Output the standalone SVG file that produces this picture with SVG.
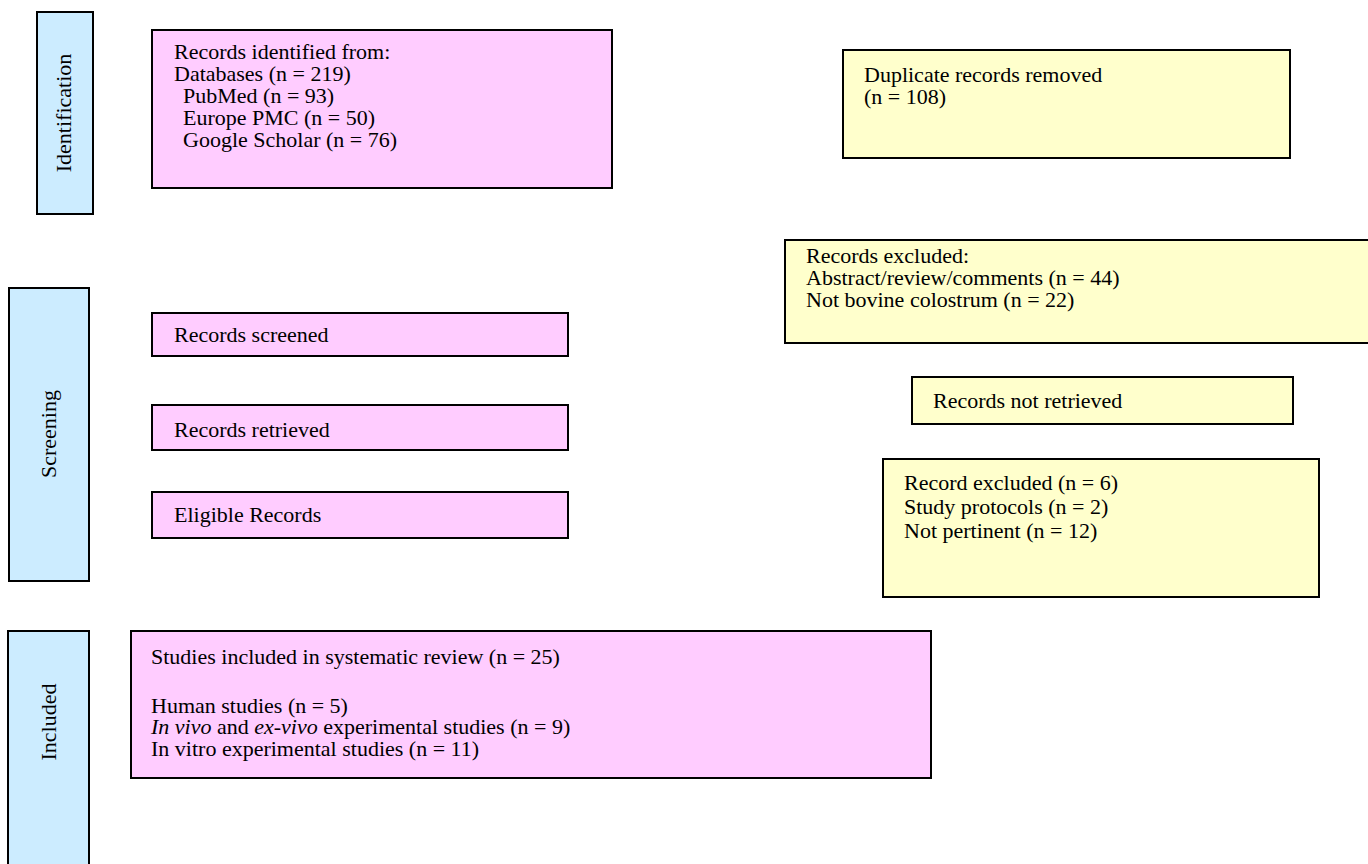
<svg xmlns="http://www.w3.org/2000/svg" width="1368" height="864" viewBox="0 0 1368 864">
<style>
.pink{fill:#FFCCFF;stroke:#000;stroke-width:2}
.yel{fill:#FFFFCC;stroke:#000;stroke-width:2}
.blue{fill:#CCECFF;stroke:#000;stroke-width:2}
text{font-family:"Liberation Serif","Times New Roman",serif;font-size:22px;fill:#000}
.it{font-style:italic}
</style>
<rect width="1368" height="864" fill="#fff"/>
<g id="phase-identification">
<rect class="blue" x="37" y="12" width="56" height="202"/>
<text transform="translate(71,113) rotate(-90)" text-anchor="middle">Identification</text>
</g>
<g id="phase-screening">
<rect class="blue" x="9" y="288" width="80" height="293"/>
<text transform="translate(56,434) rotate(-90)" text-anchor="middle">Screening</text>
</g>
<g id="phase-included">
<rect class="blue" x="8" y="631" width="81" height="240"/>
<text transform="translate(56,722) rotate(-90)" text-anchor="middle">Included</text>
</g>
<g id="records-identified">
<rect class="pink" x="152" y="30" width="460" height="158"/>
<text x="174" y="59">Records identified from:</text>
<text x="174" y="81">Databases (n = 219)</text>
<text x="183" y="103">PubMed (n = 93)</text>
<text x="183" y="125">Europe PMC (n = 50)</text>
<text x="183" y="147">Google Scholar (n = 76)</text>
</g>
<g id="duplicates-removed">
<rect class="yel" x="843" y="50" width="447" height="108"/>
<text x="864" y="82">Duplicate records removed</text>
<text x="864" y="104">(n = 108)</text>
</g>
<g id="records-excluded">
<rect class="yel" x="785" y="240" width="590" height="103"/>
<text x="806" y="263">Records excluded:</text>
<text x="806" y="285">Abstract/review/comments (n = 44)</text>
<text x="806" y="307">Not bovine colostrum (n = 22)</text>
</g>
<g id="records-screened">
<rect class="pink" x="152" y="313" width="416" height="43"/>
<text x="174" y="342">Records screened</text>
</g>
<g id="records-retrieved">
<rect class="pink" x="152" y="405" width="416" height="45"/>
<text x="174" y="437">Records retrieved</text>
</g>
<g id="eligible-records">
<rect class="pink" x="152" y="492" width="416" height="46"/>
<text x="174" y="522">Eligible Records</text>
</g>
<g id="records-not-retrieved">
<rect class="yel" x="912" y="377" width="381" height="47"/>
<text x="933" y="408">Records not retrieved</text>
</g>
<g id="record-excluded">
<rect class="yel" x="883" y="459" width="436" height="138"/>
<text x="904" y="490">Record excluded (n = 6)</text>
<text x="904" y="514">Study protocols (n = 2)</text>
<text x="904" y="538">Not pertinent (n = 12)</text>
</g>
<g id="studies-included">
<rect class="pink" x="131" y="631" width="800" height="147"/>
<text x="151" y="664">Studies included in systematic review (n = 25)</text>
<text x="151" y="713">Human studies (n = 5)</text>
<text x="151" y="734"><tspan class="it">In vivo</tspan> and <tspan class="it">ex-vivo</tspan> experimental studies (n = 9)</text>
<text x="151" y="756">In vitro experimental studies (n = 11)</text>
</g>
<g id="connectors"></g>
</svg>
